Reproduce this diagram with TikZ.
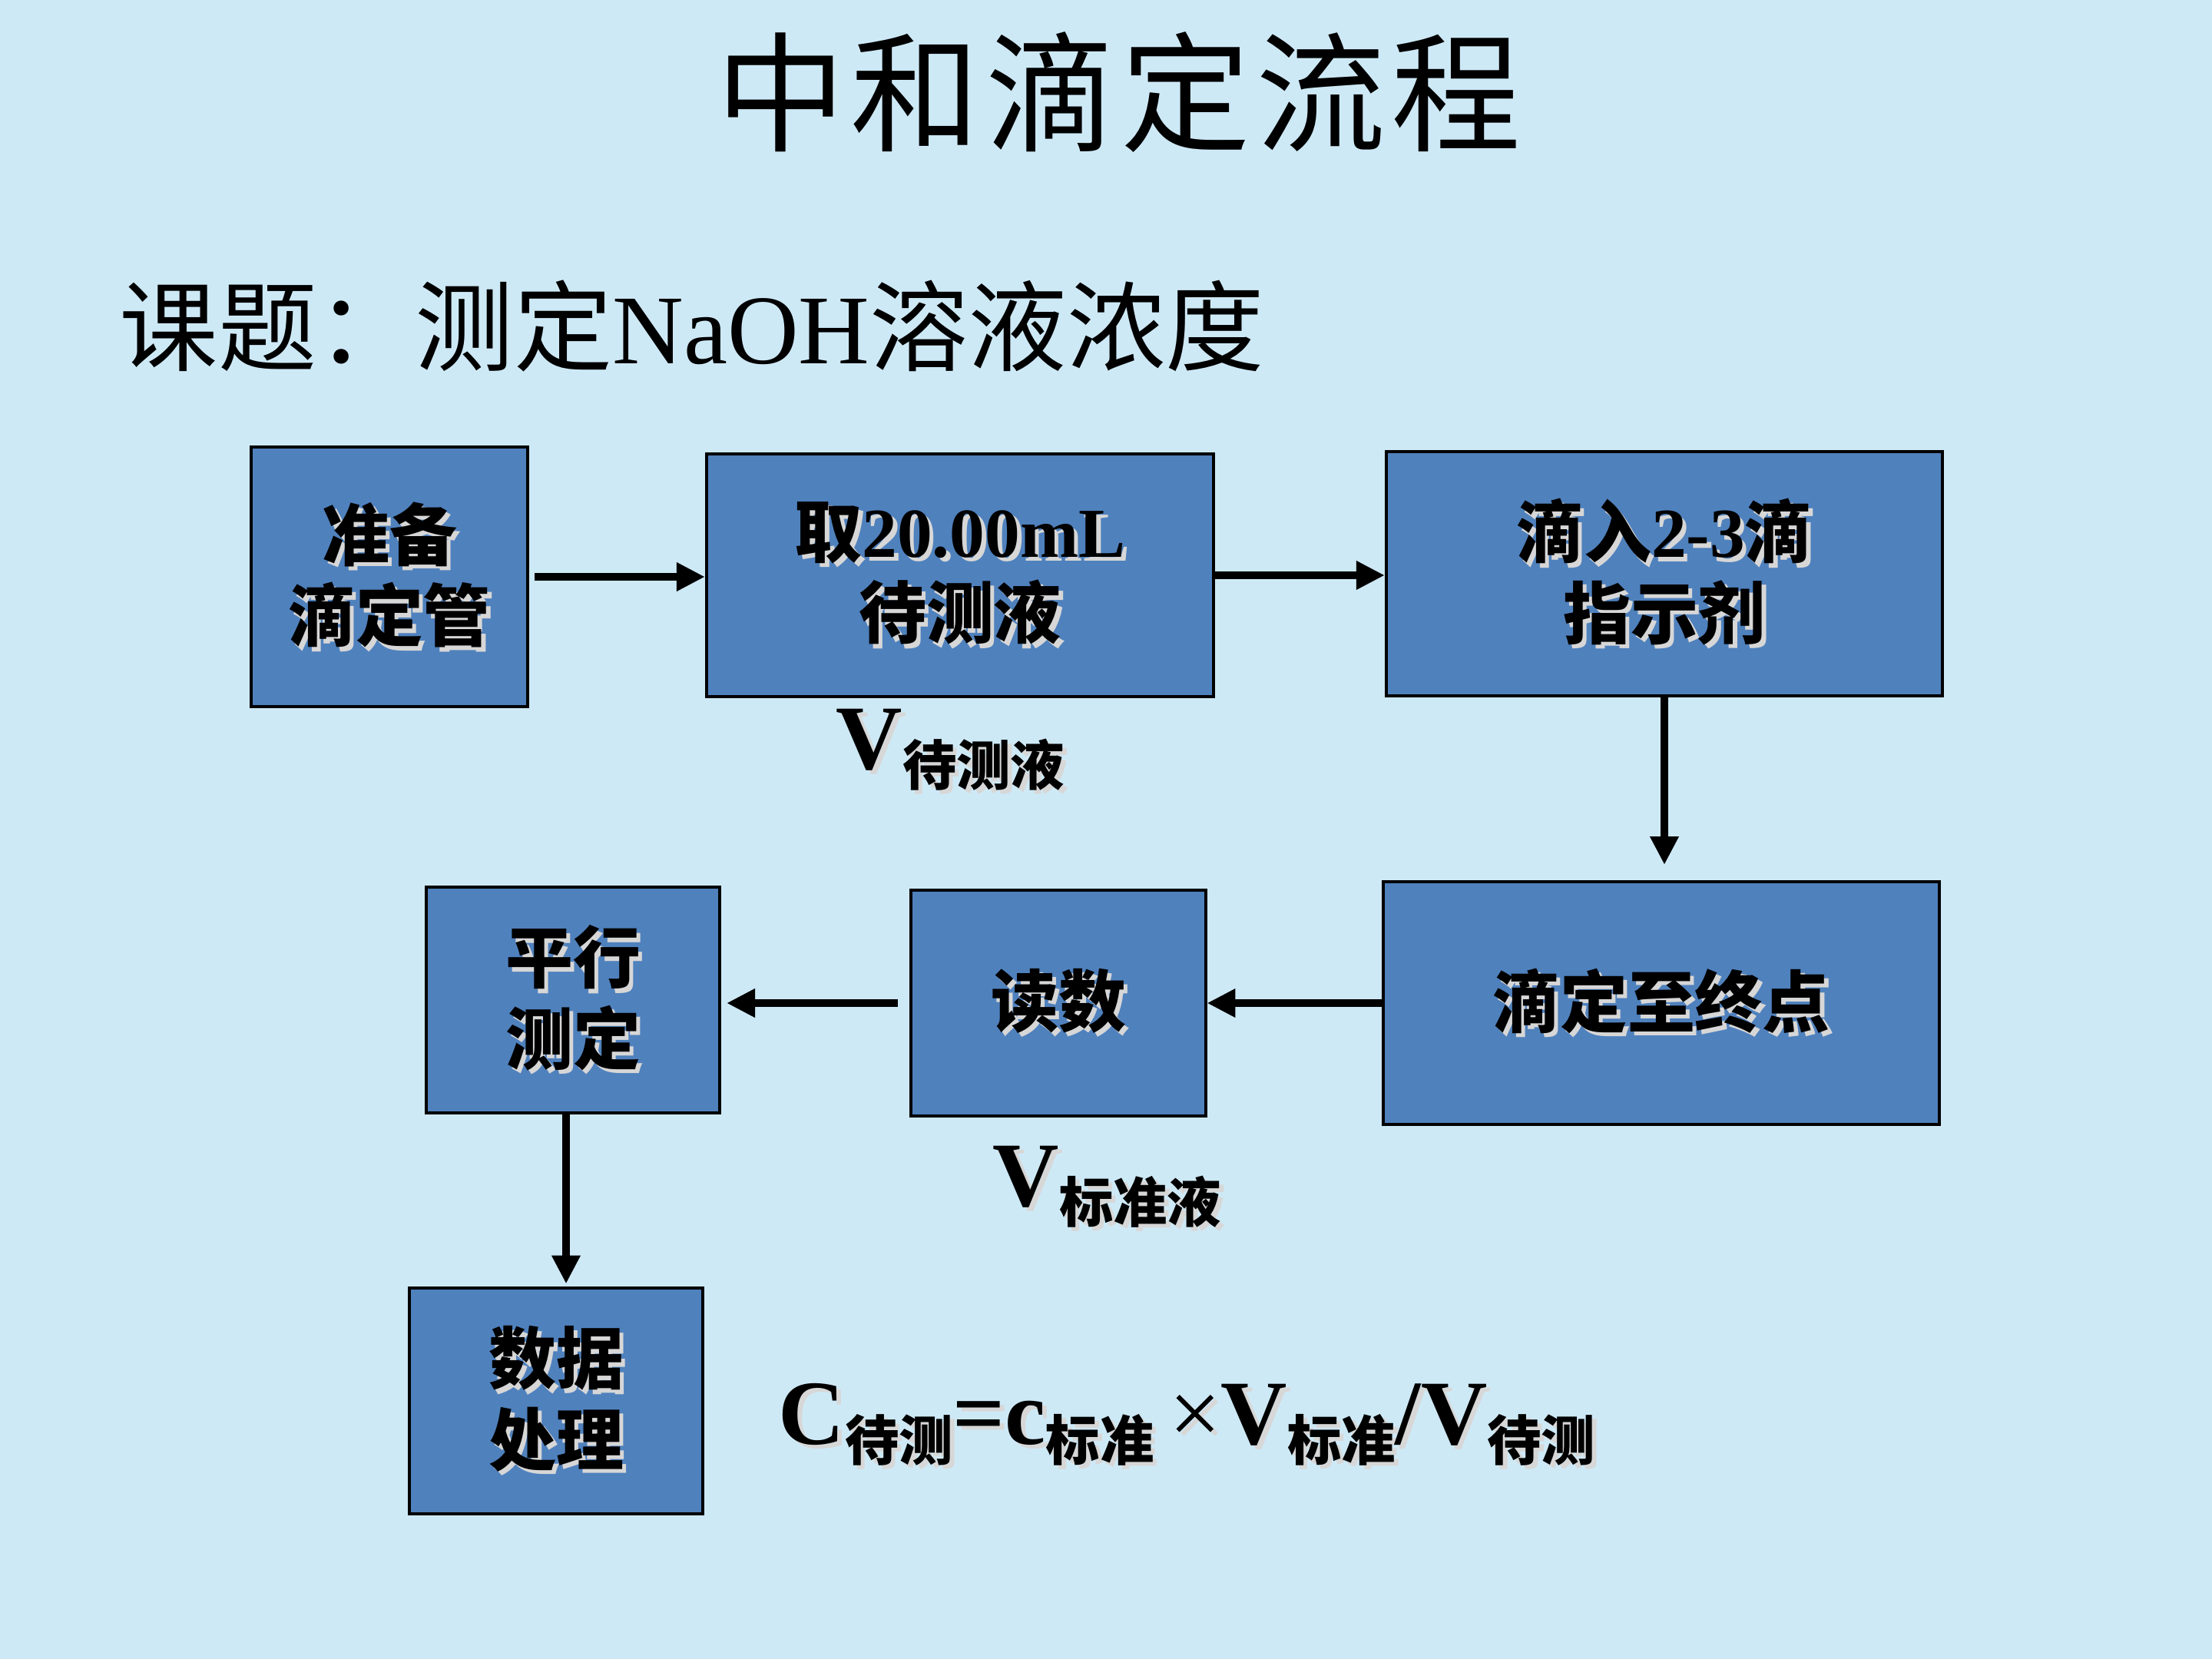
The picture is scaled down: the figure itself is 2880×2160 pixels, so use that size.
\documentclass[tikz,border=0pt]{standalone}
\usepackage{fontspec}
\setmainfont{Liberation Serif}
\newfontfamily\cjk{Noto Sans CJK SC}
\usetikzlibrary{arrows.meta}
\definecolor{bgblue}{RGB}{206,233,246}
\definecolor{boxblue}{RGB}{79,129,189}
\definecolor{shadowc}{RGB}{215,215,215}
\newcommand\shd[1]{\leavevmode\rlap{\kern1.6pt\raisebox{-1.6pt}{\color{shadowc}#1}}#1}
\newcommand\lt[1]{{\rmfamily\fontsize{26pt}{30pt}\selectfont #1}}
\newcommand\sbs[1]{\raisebox{-6pt}{\cjk\bfseries\fontsize{20pt}{20pt}\selectfont #1}}
\tikzset{
  flowbox/.style={draw=black, line width=1.1pt, fill=boxblue, inner sep=0pt, align=center,
    font=\cjk\bfseries\fontsize{25pt}{30pt}\selectfont},
  flowarrow/.style={line width=3.1pt, -{Triangle[length=10.5pt,width=10pt]}},
  vlabel/.style={anchor=base west, inner sep=0pt, font=\bfseries\fontsize{34pt}{34pt}\selectfont},
}
\begin{document}
\begin{tikzpicture}[x=0.01cm, y=-0.01cm]
\useasboundingbox (0,0) rectangle (2880,2160);
\fill[bgblue] (0,0) rectangle (2880,2160);

\node[inner sep=0pt] (title) at (1456,120)
  {\cjk\fontsize{48pt}{50pt}\selectfont 中\kern2pt 和\kern2pt 滴\kern2pt 定\kern2pt 流\kern2pt 程};
\node[anchor=west, inner sep=0pt] (subject) at (155,424)
  {\fontsize{36.5pt}{40pt}\selectfont\cjk 课题：测定{\rmfamily NaOH}溶液浓度};

\node[flowbox, minimum width=3.60cm, minimum height=3.38cm] (b1) at (507,751) {\shd{准备}\\\shd{滴定管}};
\node[flowbox, minimum width=6.60cm, minimum height=3.16cm] (b2) at (1250,749) {\shd{取\lt{20.00mL}}\\\shd{待测液}};
\node[flowbox, minimum width=7.24cm, minimum height=3.17cm] (b3) at (2167,747) {\shd{滴入\lt{2-3}滴}\\\shd{指示剂}};
\node[flowbox, minimum width=7.23cm, minimum height=3.16cm] (b4) at (2163,1306) {\shd{滴定至终点}};
\node[flowbox, minimum width=3.83cm, minimum height=2.94cm] (b5) at (1378,1306) {\shd{读数}};
\node[flowbox, minimum width=3.82cm, minimum height=2.94cm] (b6) at (746,1302) {\shd{平行}\\\shd{测定}};
\node[flowbox, minimum width=3.82cm, minimum height=2.94cm] (b7) at (724,1824) {\shd{数据}\\\shd{处理}};

\draw[flowarrow, shorten <=2pt] (b1.east) -- (b1.east -| b2.west);
\draw[flowarrow] (b2.east) -- (b2.east -| b3.west);
\draw[flowarrow, shorten >=5.7pt] (b3.south) -- (b3.south |- b4.north);
\draw[flowarrow] (b4.west) -- (b4.west -| b5.east);
\draw[flowarrow, shorten <=4.5pt, shorten >=2pt] (b5.west) -- (b5.west -| b6.east);
\coordinate (b6out) at ([xshift=-0.09cm]b6.south);
\draw[flowarrow, shorten >=1pt] (b6out) -- (b6out |- b7.north);

\node[vlabel] (vdc) at (1088,1001) {\shd{V\sbs{待测液}}};
\node[vlabel] (vbz) at (1292,1570) {\shd{V\sbs{标准液}}};
\node[vlabel] (formula) at (1013,1880)
  {\shd{C\sbs{待测}=c\sbs{标准}\,{\mdseries ×}V\sbs{标准}/V\sbs{待测}}};
\end{tikzpicture}
\end{document}
